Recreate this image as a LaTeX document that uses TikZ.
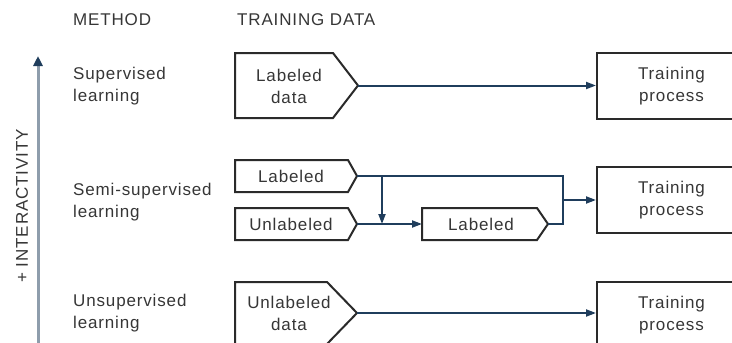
\documentclass[tikz,border=0pt]{standalone}
\usepackage{fontspec}
\setmainfont{Liberation Sans}[LetterSpace=5]
\usetikzlibrary{arrows.meta}
\definecolor{txt}{HTML}{363636}
\definecolor{edge}{HTML}{2A2A2A}
\definecolor{flow}{HTML}{1F3D5C}
\definecolor{axisc}{HTML}{8E9DAC}
\begin{document}
\begin{tikzpicture}[x=1pt,y=-1pt,
  lbl/.style={text=txt,font=\fontsize{17}{22}\selectfont,inner sep=0pt},
  shapeline/.style={draw=edge,line width=2pt,line join=miter,fill=white},
  trainbox/.style={draw=edge,line width=2pt,minimum width=149pt,minimum height=66pt,
    anchor=west,align=center,text=txt,font=\fontsize{17}{22}\selectfont,inner sep=0pt},
  flowline/.style={draw=flow,line width=2pt},
  flowarrow/.style={flowline,-{Triangle[length=10pt,width=7pt]}}]
\useasboundingbox (0,0) rectangle (732,343);
\clip (0,0) rectangle (732,343);

% headers
\node[lbl,anchor=west] (hmethod) at (73,20) {METHOD};
\node[lbl,anchor=west] (hdata) at (237,20) {TRAINING DATA};

% axis
\coordinate (axbot) at (38,345);
\coordinate (axtop) at (38,56);
\draw[draw=axisc,line width=3pt,-{Triangle[length=10pt,width=9pt,color=flow]}] (axbot) -- (axtop);
\node[lbl,rotate=90] (inter) at (22,206) {+ INTERACTIVITY};

% method labels
\node[lbl,anchor=west,align=left] (m1) at (73,86) {Supervised\\learning};
\node[lbl,anchor=west,align=left] (m2) at (73,202.5) {Semi-supervised\\learning};
\node[lbl,anchor=west,align=left] (m3) at (73,313.5) {Unsupervised\\learning};

% training boxes
\node[trainbox] (tp1) at (596,86) {Training\\process};
\node[trainbox] (tp2) at (596,200) {Training\\process};
\node[trainbox] (tp3) at (596,315) {Training\\process};

% pentagons
\draw[shapeline] (235,53) -- (333,53) -- (358,85.5) -- (333,118) -- (235,118) -- cycle;
\coordinate (p1tip) at (358,85.5);
\node[lbl,align=center] (p1) at (289,86) {Labeled\\data};

\draw[shapeline] (235,160) -- (348,160) -- (357,176) -- (348,192) -- (235,192) -- cycle;
\coordinate (p2tip) at (357,176);
\node[lbl] (p2) at (291,176) {Labeled};

\draw[shapeline] (235,208) -- (348,208) -- (357,224) -- (348,240) -- (235,240) -- cycle;
\coordinate (p3tip) at (357,224);
\node[lbl] (p3) at (291,224) {Unlabeled};

\draw[shapeline] (422,208) -- (537,208) -- (548,224) -- (537,240) -- (422,240) -- cycle;
\coordinate (p4tail) at (422,224);
\coordinate (p4tip) at (548,224);
\node[lbl] (p4) at (481,224) {Labeled};

\draw[shapeline] (235,282) -- (327,282) -- (357,313) -- (327,344) -- (235,344) -- cycle;
\coordinate (p5tip) at (357,313);
\node[lbl,align=center] (p5) at (289,313) {Unlabeled\\data};

% connectors
\coordinate (jtop) at (382,176);
\coordinate (jbot) at (382,224);
\coordinate (rtop) at (563,176);
\coordinate (rbot) at (563,224);
\coordinate (rmid) at (563,200);

\draw[flowarrow] (p1tip) -- (tp1.west |- p1tip);
\draw[flowline] (p2tip) -- (rtop) -- (rbot) -- (p4tip);
\draw[flowarrow] (jtop) -- (jbot);
\draw[flowarrow] (p3tip) -- (p4tail);
\draw[flowarrow] (rmid) -- (tp2.west);
\draw[flowarrow] (p5tip) -- (tp3.west |- p5tip);
\end{tikzpicture}
\end{document}
